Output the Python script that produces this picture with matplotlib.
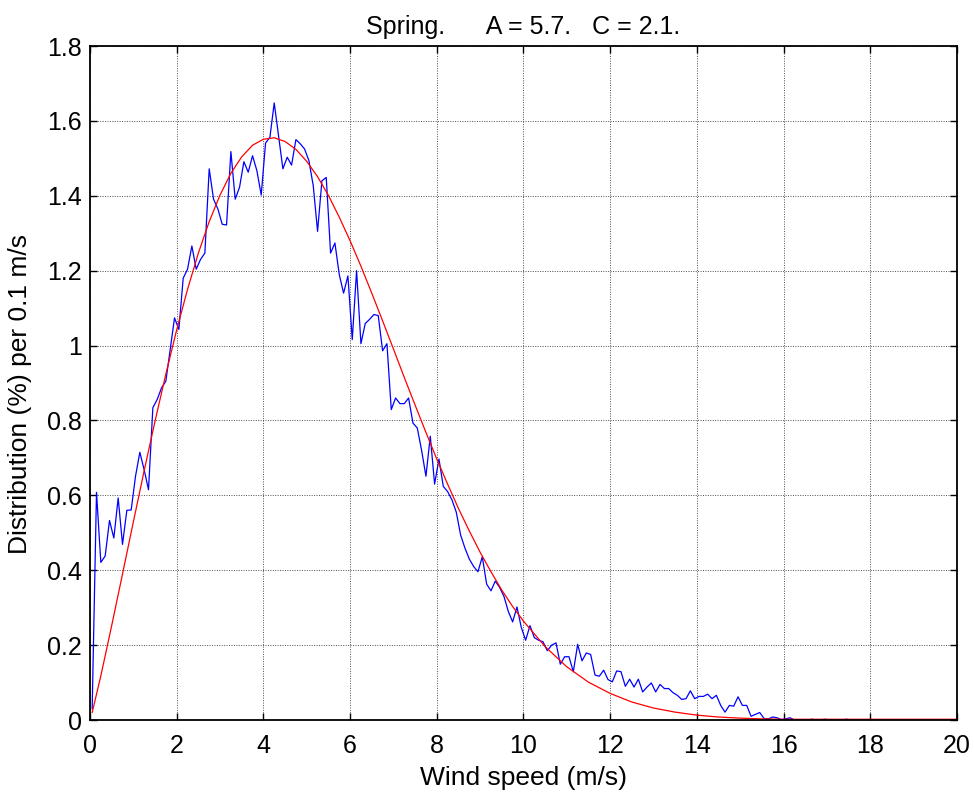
import matplotlib
matplotlib.use("Agg")
import matplotlib.pyplot as plt
import numpy as np

plt.rcParams['font.family'] = ['Liberation Sans', 'DejaVu Sans']

# measured distribution, one value per 0.1 m/s bin (bin centres 0.05, 0.15, ...)
measured = [
    0.030, 0.608, 0.421, 0.438, 0.533, 0.486, 0.593, 0.469, 0.560, 0.561,
    0.651, 0.715, 0.668, 0.615, 0.834, 0.856, 0.887, 0.905, 0.990, 1.074,
    1.043, 1.180, 1.204, 1.266, 1.204, 1.230, 1.247, 1.472, 1.391, 1.365,
    1.324, 1.322, 1.518, 1.391, 1.423, 1.491, 1.463, 1.507, 1.467, 1.402,
    1.541, 1.556, 1.648, 1.560, 1.472, 1.503, 1.482, 1.550, 1.539, 1.525,
    1.494, 1.427, 1.305, 1.440, 1.449, 1.247, 1.274, 1.190, 1.140, 1.186,
    1.016, 1.200, 1.005, 1.059, 1.070, 1.083, 1.080, 0.986, 1.005, 0.829,
    0.860, 0.845, 0.845, 0.860, 0.793, 0.780, 0.720, 0.651, 0.758, 0.630,
    0.697, 0.624, 0.610, 0.588, 0.555, 0.494, 0.459, 0.430, 0.410, 0.396,
    0.436, 0.363, 0.345, 0.371, 0.354, 0.330, 0.290, 0.262, 0.302, 0.247,
    0.213, 0.252, 0.220, 0.213, 0.209, 0.185, 0.200, 0.206, 0.149, 0.169,
    0.169, 0.129, 0.202, 0.158, 0.179, 0.175, 0.120, 0.117, 0.133, 0.108,
    0.102, 0.131, 0.129, 0.090, 0.109, 0.088, 0.109, 0.075, 0.088, 0.099,
    0.075, 0.095, 0.084, 0.084, 0.073, 0.066, 0.055, 0.057, 0.078, 0.057,
    0.063, 0.063, 0.069, 0.057, 0.066, 0.039, 0.021, 0.039, 0.037, 0.062,
    0.039, 0.039, 0.010, 0.015, 0.020, 0.004, 0.003, 0.008, 0.006, 0.001,
    0.003, 0.006, 0.000, 0.000, 0.000, 0.000, 0.002, 0.000, 0.000, 0.002,
    0.000, 0.000, 0.000, 0.000, 0.002, 0.000, 0.000, 0.000, 0.000, 0.000,
    0.000, 0.000, 0.000, 0.000, 0.000, 0.000, 0.000, 0.000, 0.000, 0.000,
    0.000, 0.000, 0.000, 0.000, 0.000, 0.000, 0.000, 0.000, 0.000, 0.000,
]
measured_speed = np.arange(len(measured)) * 0.1 + 0.05

# fitted Weibull curve (A = 5.7, C = 2.1)
fit_speed = np.concatenate([[0.05], np.arange(0.25, 10.01, 0.25), np.arange(10.5, 20.01, 0.5)])
fit = [
    0.020,
    0.118, 0.252, 0.390, 0.529, 0.666, 0.798, 0.924, 1.042, 1.150, 1.247,
    1.331, 1.402, 1.460, 1.504, 1.535, 1.551, 1.555, 1.545, 1.524, 1.492,
    1.451, 1.401, 1.343, 1.280, 1.212, 1.140, 1.066, 0.991, 0.915, 0.841,
    0.768, 0.697, 0.630, 0.565, 0.505, 0.448, 0.396, 0.347, 0.303, 0.264,
    0.196, 0.142, 0.101, 0.071, 0.048, 0.032, 0.021, 0.013, 0.008, 0.005,
    0.003, 0.002, 0.002, 0.002, 0.002, 0.002, 0.002, 0.002, 0.002, 0.002,
]

x_ticks = np.arange(0, 21, 2)
y_ticks = [0, 0.2, 0.4, 0.6, 0.8, 1, 1.2, 1.4, 1.6, 1.8]
y_tick_labels = ['0', '0.2', '0.4', '0.6', '0.8', '1', '1.2', '1.4', '1.6', '1.8']

fs = 18

fig = plt.figure(figsize=(9.74, 7.92), dpi=100)
ax = fig.add_axes([0.0924, 0.0909, 0.8901, 0.8510])

ax.plot(measured_speed, measured, color=(0, 0, 1), lw=0.9)
ax.plot(fit_speed, fit, color=(1, 0, 0), lw=0.9)

ax.set_xlim(0, 20)
ax.set_ylim(0, 1.8)
ax.set_xticks(x_ticks)
ax.set_yticks(y_ticks)
ax.set_yticklabels(y_tick_labels)
ax.tick_params(direction='in', length=5, width=1, top=True, right=True,
               labelsize=fs)
ax.tick_params(axis='x', pad=10)
ax.tick_params(axis='y', pad=6)
for s in ax.spines.values():
    s.set_linewidth(1.3)

ax.grid(True, color='0.3', linestyle=(0, (1, 1.5)), linewidth=0.7)

ax.set_title('Spring.      A = 5.7.   C = 2.1.', fontsize=fs, pad=9)
ax.set_xlabel('Wind speed (m/s)', fontsize=19, labelpad=6)
ax.set_ylabel('Distribution (%) per 0.1 m/s', fontsize=19)
ax.yaxis.set_label_coords(-0.067, 0.484)

fig.savefig('out.png', dpi=100)
